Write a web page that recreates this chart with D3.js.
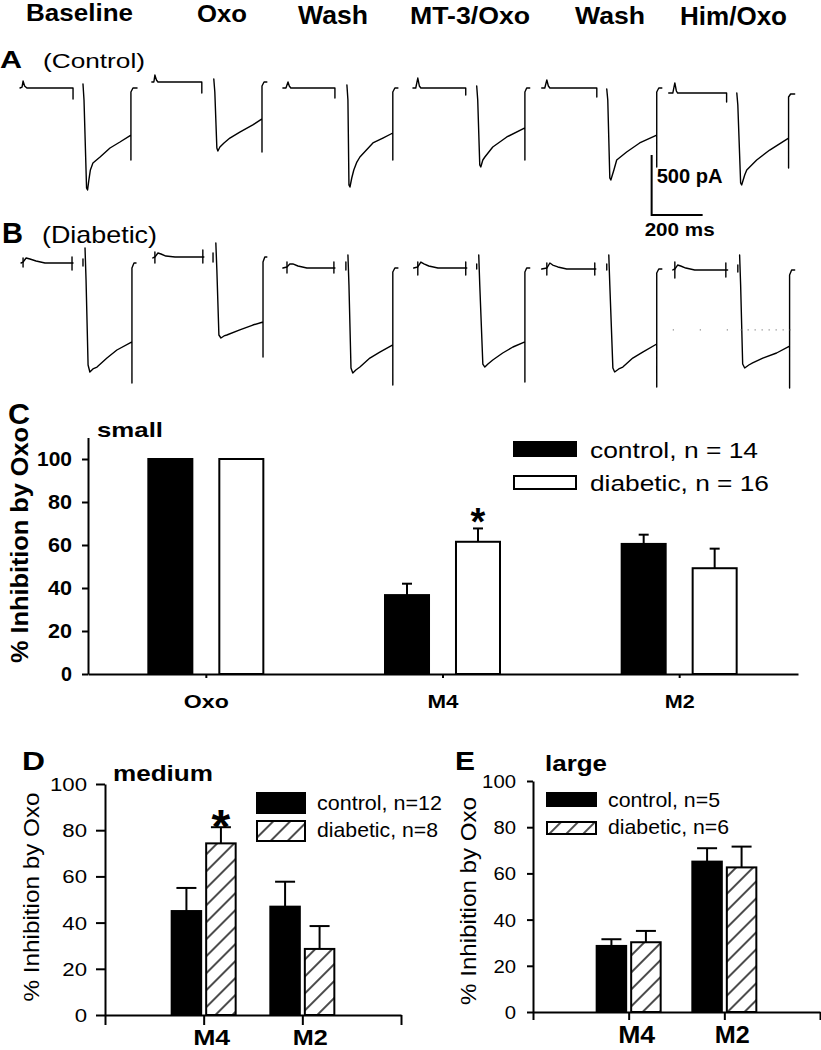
<!DOCTYPE html>
<html><head><meta charset="utf-8">
<script src="https://cdn.jsdelivr.net/npm/d3@7"></script>
<style>body{margin:0;background:#fff}</style>
</head><body>
<script>
// ---------------- DATA ----------------
// Column headers (conditions)
const conditionLabels = ["Baseline","Oxo","Wash","MT-3/Oxo","Wash","Him/Oxo"];

// Current traces: [time (ms), current (pA, relative to holding level)]
// Row A (control): holding segments and depolarising steps
const controlHold = [
  [[0,0],[8,8],[12,58],[18,17],[27,0],[208,0],[208,-92]],
  [[517,50],[525,50],[529,108],[535,67],[541,50],[713,50],[713,-42]],
  [[1031,0],[1043,0],[1051,50],[1056,17],[1062,0],[1235,0],[1235,-83]],
  [[1541,0],[1552,0],[1560,83],[1566,17],[1572,0],[1748,0],[1748,-58]],
  [[2046,0],[2058,0],[2066,67],[2072,17],[2078,0],[2262,0],[2262,-75]],
  [[2544,-42],[2560,-42],[2568,42],[2574,-25],[2579,-42],[2771,-42],[2771,-117]]
];
const controlStep = [
  [[247,33],[251,-100],[261,-833],[265,-850],[270,-767],[276,-683],[286,-625],[314,-575],[353,-500],[392,-450],[435,-392],[435,-600],[435,-33],[443,0],[459,0]],
  [[760,75],[764,-33],[772,-500],[776,-525],[784,-492],[800,-458],[823,-417],[862,-367],[913,-308],[949,-258],[949,-533],[949,17],[957,50],[968,50]],
  [[1282,25],[1286,-100],[1290,-808],[1294,-825],[1301,-750],[1309,-683],[1321,-617],[1333,-575],[1384,-458],[1423,-417],[1462,-375],[1462,-600],[1462,-33],[1470,0],[1482,0]],
  [[1791,17],[1795,-100],[1803,-642],[1807,-658],[1815,-600],[1823,-575],[1854,-492],[1909,-408],[1980,-333],[1980,-600],[1980,-33],[1987,0],[1999,0]],
  [[2301,-8],[2305,-100],[2313,-750],[2317,-767],[2329,-683],[2340,-600],[2379,-533],[2430,-458],[2497,-392],[2497,-658],[2497,-33],[2505,0],[2517,0]],
  [[2811,-42],[2815,-142],[2826,-792],[2830,-808],[2842,-725],[2850,-683],[2889,-600],[2940,-517],[3014,-417],[3014,-667],[3014,-75],[3022,-50],[3038,-50]]
];
// Row B (diabetic)
const diabeticHold = [
  [[4,0],[12,8],[24,42],[39,33],[63,17],[98,0],[208,0]],
  [[521,42],[529,50],[541,83],[553,75],[572,58],[608,50],[721,50]],
  [[1031,-42],[1047,-33],[1058,-8],[1070,-8],[1090,-25],[1125,-42],[1235,-42]],
  [[1544,-42],[1560,-33],[1572,8],[1584,-8],[1603,-25],[1639,-42],[1752,-42]],
  [[2046,-50],[2066,-42],[2078,0],[2089,-17],[2109,-33],[2144,-50],[2258,-50]],
  [[2560,-58],[2568,-50],[2579,-17],[2591,-25],[2611,-42],[2646,-58],[2775,-58]]
];
// stimulus-artefact ticks: [time, top pA, bottom pA]
const diabeticTicks = [
  [12,42,-33],[204,50,-58],[247,33,-25],
  [529,92,0],[717,108,0],[757,83,8],
  [1047,8,-83],[1231,8,-83],[1278,8,-58],
  [1560,8,-100],[1748,8,-100],[1791,-8,-50],
  [2066,0,-100],[2254,0,-100],[2301,-8,-58],
  [2568,8,-125],[2768,0,-117],[2815,-17,-75]
];
const diabeticStep = [
  [[255,125],[259,-142],[267,-850],[274,-908],[286,-883],[302,-867],[341,-792],[380,-725],[439,-658],[439,-1000],[439,-42],[447,0],[455,0]],
  [[768,167],[772,-58],[780,-600],[788,-625],[800,-608],[811,-600],[862,-558],[913,-517],[953,-492],[953,-783],[953,8],[960,50],[968,50]],
  [[1286,67],[1290,-183],[1298,-875],[1305,-917],[1317,-892],[1333,-867],[1372,-792],[1411,-742],[1462,-683],[1462,-1017],[1462,-75],[1470,-42],[1482,-42]],
  [[1799,67],[1803,-183],[1815,-842],[1823,-867],[1835,-842],[1854,-808],[1893,-750],[1933,-700],[1980,-658],[1980,-992],[1980,-75],[1987,-42],[1999,-42]],
  [[2309,67],[2313,-183],[2325,-875],[2332,-908],[2348,-883],[2364,-867],[2403,-792],[2442,-742],[2497,-675],[2497,-1033],[2497,-83],[2505,-50],[2517,-50]],
  [[2822,67],[2826,-183],[2834,-842],[2842,-875],[2858,-850],[2873,-833],[2913,-792],[2967,-750],[3018,-692],[3018,-1042],[3018,-100],[3026,-58],[3038,-58]]
];
// dotted reference line in Him/Oxo diabetic: [t start, t end, pA]
const dottedRef = [[2560,2826,-558],[2826,3040,-558]];
// scale bar: [ms, pA], corner location [t, pA] on row A axes
const scaleBarValues = [200, 500];
const scaleBarCorner = [2477, -1058];

// Bar charts
const yTicks = [0,20,40,60,80,100];
const groups = ["control","diabetic"];

const categoriesC = ["Oxo","M4","M2"];
const smallControl = [100, 36.7, 60.5];
const smallControlErr = [0, 5.3, 4.3];
const smallDiabetic = [100, 61.5, 49.2];
const smallDiabeticErr = [0, 6.2, 9.1];
const legendC = ["control, n = 14","diabetic, n = 16"];

const categoriesDE = ["M4","M2"];
const mediumControl = [45.0, 46.9];
const mediumControlErr = [10.0, 10.8];
const mediumDiabetic = [74.3, 28.6];
const mediumDiabeticErr = [7.0, 9.9];
const legendD = ["control, n=12","diabetic, n=8"];

const largeControl = [28.6, 65.1];
const largeControlErr = [2.9, 5.8];
const largeDiabetic = [30.2, 62.6];
const largeDiabeticErr = [4.9, 9.0];
const legendE = ["control, n=5","diabetic, n=6"];

// ---------------- DRAWING ----------------
const W=821,H=1050;
const FONT="'Liberation Sans', Arial, Helvetica, sans-serif";
const svg=d3.select("body").append("svg").attr("width",W).attr("height",H).attr("font-family",FONT);
svg.append("rect").attr("width",W).attr("height",H).attr("fill","#fff");

const defs=svg.append("defs");
const pat=defs.append("pattern").attr("id","hatch").attr("patternUnits","userSpaceOnUse")
  .attr("width",12).attr("height",12).attr("patternTransform","rotate(-45)");
pat.append("rect").attr("width",12).attr("height",12).attr("fill","#fff");
pat.append("line").attr("x1",0).attr("y1",6).attr("x2",12).attr("y2",6).attr("stroke","#000").attr("stroke-width",1.4);

function txt(g,x,y,s,o){
  const t=g.append("text").attr("font-size",o.size).attr("font-weight",o.weight||"normal")
    .attr("text-anchor",o.anchor||"start").attr("fill","#000").text(s);
  if(o.width){
    t.attr("textLength",o.width).attr("lengthAdjust","spacingAndGlyphs");
    t.attr("transform",`translate(${x},${y}) rotate(${o.rot||0})`);
  } else {
    t.attr("transform",`translate(${x},${y}) rotate(${o.rot||0}) scale(${o.sx||1},1)`);
  }
  return t;
}

// ---- Top: headers
const headerLeft=[26,197,298,410,575,680];
const headerWidth=[107,50,70,120,70,107];
const headerSize=[23,23,25,24,24,25];
const headerBase=[21,21.5,24,24,23.5,25];
conditionLabels.forEach((s,i)=>txt(svg,headerLeft[i],headerBase[i],s,{size:headerSize[i],weight:"bold",width:headerWidth[i]}));

txt(svg,0,68,"A",{size:24,weight:"bold",width:22});
txt(svg,43,68,"(Control)",{size:20,width:102});
txt(svg,2,243,"B",{size:29,weight:"bold",width:21});
txt(svg,42,243,"(Diabetic)",{size:24,width:115});

// ---- traces
const xT=d3.scaleLinear().domain([0,3000]).range([20,20+3000*0.255]);
const yA=d3.scaleLinear().domain([0,-1000]).range([88,208]);
const yB=d3.scaleLinear().domain([0,-1000]).range([263,383]);
const tr=svg.append("g").attr("fill","none").attr("stroke","#000").attr("stroke-width",1.4)
  .attr("stroke-linejoin","round").attr("stroke-linecap","round");
const lineA=d3.line().x(d=>xT(d[0])).y(d=>yA(d[1]));
const lineB=d3.line().x(d=>xT(d[0])).y(d=>yB(d[1]));
controlHold.concat(controlStep).forEach(p=>tr.append("path").attr("d",lineA(p)));
diabeticHold.concat(diabeticStep).forEach(p=>tr.append("path").attr("d",lineB(p)));
diabeticTicks.forEach(d=>tr.append("line").attr("x1",xT(d[0])).attr("x2",xT(d[0])).attr("y1",yB(d[1])).attr("y2",yB(d[2])));
dottedRef.forEach((d,i)=>svg.append("line").attr("x1",xT(d[0])).attr("x2",xT(d[1])).attr("y1",yB(d[2])).attr("y2",yB(d[2]))
  .attr("stroke","#777").attr("stroke-width",1.2).attr("stroke-dasharray",i===0?"1,26":"1,6"));

// scale bar
const sbx=xT(scaleBarCorner[0]), sby=yA(scaleBarCorner[1]);
const sbTop=yA(scaleBarCorner[1]+scaleBarValues[1]);
const sbRight=xT(scaleBarCorner[0]+scaleBarValues[0]);
svg.append("path").attr("d",`M${sbx},${sbTop}V${sby}H${sbRight}`).attr("fill","none").attr("stroke","#000").attr("stroke-width",2);
txt(svg,sbx+5,183,scaleBarValues[1]+" pA",{size:20,weight:"bold",width:66});
txt(svg,sbx-7,236,scaleBarValues[0]+" ms",{size:19,weight:"bold",width:70});

// ---- bar panel helper
function drawBars(g,cats,ctrl,ctrlE,diab,diabE,center,y,inner,capW,diabFill){
  cats.forEach((c,i)=>{
    const cx=center(c);
    [[ctrl[i],ctrlE[i],"#000","control"],[diab[i],diabE[i],diabFill,"diabetic"]].forEach(([v,e,f,gname])=>{
      const x0=cx+inner(gname), bw=inner.bandwidth();
      g.append("rect").attr("x",x0).attr("y",y(v)).attr("width",bw).attr("height",y(0)-y(v))
        .attr("fill",f).attr("stroke","#000").attr("stroke-width",2);
      if(e>0){
        const mx=x0+bw/2;
        g.append("line").attr("x1",mx).attr("x2",mx).attr("y1",y(v)).attr("y2",y(v+e)).attr("stroke","#000").attr("stroke-width",2);
        g.append("line").attr("x1",mx-capW/2).attr("x2",mx+capW/2).attr("y1",y(v+e)).attr("y2",y(v+e)).attr("stroke","#000").attr("stroke-width",2);
      }
    });
  });
}
function styleAxis(a,w){a.selectAll("path,line").attr("stroke","#000").attr("stroke-width",w);a.selectAll("text").remove();}

// ---- Panel C (small)
const gC=svg.append("g");
const yC=d3.scaleLinear().domain([0,110]).range([674,437.5]);
const xC=d3.scaleBand().domain(categoriesC).range([88,798]);
const cC=c=>xC(c)+xC.bandwidth()/2;
const innerC=d3.scaleBand().domain(groups).range([-58,57]).paddingInner(0.38);
drawBars(gC,categoriesC,smallControl,smallControlErr,smallDiabetic,smallDiabeticErr,cC,yC,innerC,10,"#fff");
const axYC=gC.append("g").attr("transform","translate(88,0)").call(d3.axisLeft(yC).tickValues(yTicks).tickSize(6).tickSizeOuter(0));
styleAxis(axYC,2);
const axXC=gC.append("g").attr("transform","translate(0,674)").call(d3.axisBottom(xC).tickSize(4).tickSizeOuter(0));
styleAxis(axXC,2);
const tickWC={0:11,20:24,40:24,60:24,80:24,100:35};
yTicks.forEach(v=>txt(gC,72,yC(v)+7,String(v),{size:19.5,weight:"bold",width:tickWC[v],anchor:"end"}));
const wC={Oxo:45,M4:31,M2:30};
categoriesC.forEach(c=>txt(gC,cC(c),708,c,{size:19,weight:"bold",width:wC[c],anchor:"middle"}));
txt(gC,28,545,"% Inhibition by Oxo",{size:23,weight:"bold",width:236,anchor:"middle",rot:-90});
txt(gC,8,424,"C",{size:30,weight:"bold",width:22});
txt(gC,97,437,"small",{size:21,weight:"bold",width:66});
// legend C
gC.append("rect").attr("x",514).attr("y",442).attr("width",62).attr("height",14).attr("fill","#000").attr("stroke","#000").attr("stroke-width",2);
gC.append("rect").attr("x",514).attr("y",476).attr("width",62).attr("height",13).attr("fill","#fff").attr("stroke","#000").attr("stroke-width",2);
txt(gC,590,458,legendC[0],{size:22,width:168});
txt(gC,590,491,legendC[1],{size:22,width:179});
txt(gC,cC("M4")+innerC("diabetic")+innerC.bandwidth()/2,535,"*",{size:38,weight:"bold",anchor:"middle"});

// ---- Panel D (medium)
const gD=svg.append("g");
const yD=d3.scaleLinear().domain([0,100]).range([1015,784]);
const xD=d3.scalePoint().domain(["_a",...categoriesDE,"_b"]).range([105,401]);
const innerDE=d3.scaleBand().domain(groups).range([-32,32]).paddingInner(0.145);
drawBars(gD,categoriesDE,mediumControl,mediumControlErr,mediumDiabetic,mediumDiabeticErr,c=>xD(c),yD,innerDE,20,"url(#hatch)");
const axYD=gD.append("g").attr("transform","translate(105,0)").call(d3.axisLeft(yD).tickValues(yTicks).tickSize(9).tickSizeOuter(0));
styleAxis(axYD,2);
const axXD=gD.append("g").attr("transform","translate(0,1015)").call(d3.axisBottom(xD).tickSize(10).tickSizeOuter(0));
styleAxis(axXD,2);
yTicks.forEach(v=>txt(gD,87,yD(v)+7,String(v),{size:19,sx:1.17,anchor:"end"}));
categoriesDE.forEach((c,i)=>txt(gD,xD(c)+8,1045,c,{size:22,weight:"bold",width:[37,35][i],anchor:"middle"}));
txt(gD,39,897,"% Inhibition by Oxo",{size:22,width:209,anchor:"middle",rot:-90});
txt(gD,22,770,"D",{size:25,weight:"bold",width:23});
txt(gD,113,781,"medium",{size:22,weight:"bold",width:100});
gD.append("rect").attr("x",257).attr("y",793).attr("width",48).attr("height",20).attr("fill","#000").attr("stroke","#000").attr("stroke-width",2);
gD.append("rect").attr("x",257).attr("y",821).attr("width",48).attr("height",20).attr("fill","url(#hatch)").attr("stroke","#000").attr("stroke-width",2);
txt(gD,317,810,legendD[0],{size:21,width:125});
txt(gD,317,837,legendD[1],{size:21,width:121});
txt(gD,xD("M4")+innerDE("diabetic")+innerDE.bandwidth()/2,843,"*",{size:48,weight:"bold",anchor:"middle"});

// ---- Panel E (large)
const gE=svg.append("g");
const yE=d3.scaleLinear().domain([0,100]).range([1012,781]);
const xE=d3.scalePoint().domain(["_a",...categoriesDE,"_b"]).range([533,820]);
drawBars(gE,categoriesDE,largeControl,largeControlErr,largeDiabetic,largeDiabeticErr,c=>xE(c),yE,innerDE,20,"url(#hatch)");
const axYE=gE.append("g").attr("transform","translate(533,0)").call(d3.axisLeft(yE).tickValues(yTicks).tickSize(6).tickSizeOuter(0));
styleAxis(axYE,2);
const axXE=gE.append("g").attr("transform","translate(0,1012)").call(d3.axisBottom(xE).tickSize(8).tickSizeOuter(0));
styleAxis(axXE,2);
yTicks.forEach(v=>txt(gE,516,yE(v)+7,String(v),{size:19,sx:1.07,anchor:"end"}));
categoriesDE.forEach((c,i)=>txt(gE,xE(c)+8,1043,c,{size:24,weight:"bold",width:[37,35][i],anchor:"middle"}));
txt(gE,476,901,"% Inhibition by Oxo",{size:22,width:208,anchor:"middle",rot:-90});
txt(gE,455,770,"E",{size:25,weight:"bold",width:20});
txt(gE,545,771,"large",{size:22,weight:"bold",width:62});
gE.append("rect").attr("x",547).attr("y",793).attr("width",49).attr("height",13).attr("fill","#000").attr("stroke","#000").attr("stroke-width",2);
gE.append("rect").attr("x",547).attr("y",822).attr("width",49).attr("height",12).attr("fill","url(#hatch)").attr("stroke","#000").attr("stroke-width",2);
txt(gE,608,807,legendE[0],{size:21,width:112});
txt(gE,608,834,legendE[1],{size:21,width:121});
</script>
</body></html>
